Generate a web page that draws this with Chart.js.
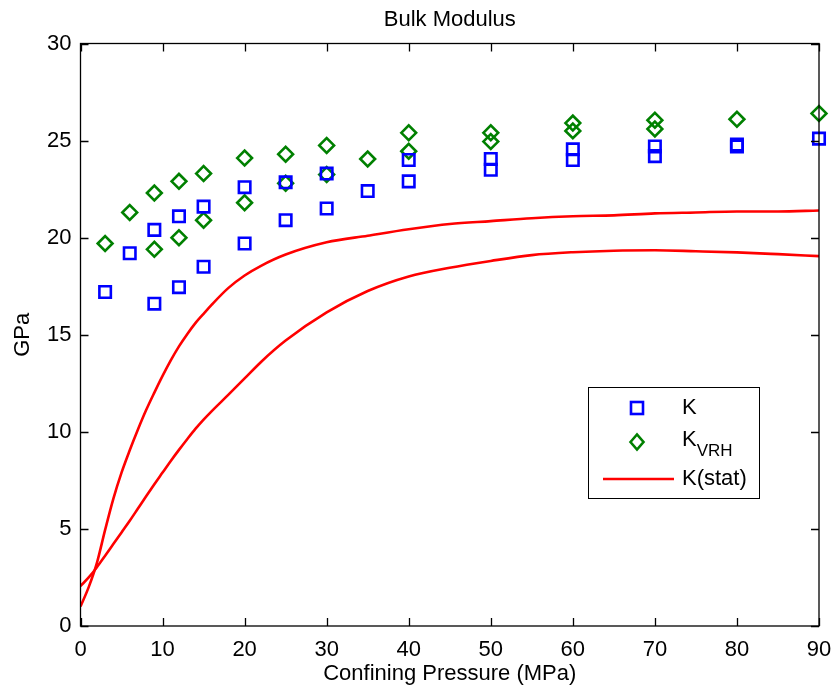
<!DOCTYPE html>
<html>
<head>
<meta charset="utf-8">
<title>Bulk Modulus</title>
<script src="https://cdn.jsdelivr.net/npm/chart.js@4.4.1/dist/chart.umd.min.js"></script>
<style>
    html, body { margin: 0; padding: 0; background: #ffffff; }
    #wrap { width: 832px; height: 691px; }
</style>
</head>
<body>
<div id="wrap"><canvas id="bulkChart"></canvas></div>
<script>
// ===== DATA =====

// Dynamic bulk modulus K (squares)
const kPressure = [3, 6, 9, 9, 12, 12, 15, 15, 20, 20, 25, 25, 30, 30, 35, 40, 40, 50, 50, 60, 60, 70, 70, 80, 80, 90];
const kValues   = [17.2, 19.2, 20.4, 16.6, 21.1, 17.45, 21.6, 18.5, 22.6, 19.7, 22.85, 20.9, 23.3, 21.5, 22.4, 24.0, 22.9, 24.05, 23.5, 24.55, 24.0, 24.7, 24.2, 24.8, 24.7, 25.1];

// Voigt-Reuss-Hill estimate (diamonds)
const vrhPressure = [3, 6, 9, 9, 12, 12, 15, 15, 20, 20, 25, 25, 30, 30, 35, 40, 40, 50, 50, 60, 60, 70, 70, 80, 90];
const vrhValues   = [19.7, 21.3, 22.3, 19.4, 22.9, 20.0, 23.3, 20.9, 24.1, 21.8, 24.3, 22.8, 24.75, 23.25, 24.05, 25.4, 24.45, 25.4, 24.95, 25.9, 25.5, 26.05, 25.6, 26.1, 26.4];

// Static modulus curves, two loading runs
const statPressure = [0, 1, 2, 3, 4, 5, 6, 7, 8, 9, 10, 11, 12, 13, 14, 15, 16, 18, 20, 22, 25, 30, 35, 40, 45, 50, 55, 60, 65, 70, 75, 80, 85, 90];
const statRunA = [1.0, 2.0, 3.25, 4.95, 6.55, 7.9, 9.05, 10.12, 11.12, 12.02, 12.88, 13.68, 14.4, 15.03, 15.6, 16.08, 16.55, 17.4, 18.05, 18.55, 19.13, 19.76, 20.1, 20.43, 20.7, 20.85, 21.0, 21.1, 21.15, 21.25, 21.3, 21.35, 21.35, 21.4];
const statRunB = [2.06, 2.5, 3.03, 3.62, 4.22, 4.82, 5.42, 6.05, 6.68, 7.3, 7.9, 8.5, 9.07, 9.62, 10.15, 10.63, 11.07, 11.9, 12.75, 13.6, 14.7, 16.15, 17.25, 18.0, 18.45, 18.8, 19.1, 19.25, 19.33, 19.35, 19.3, 19.24, 19.15, 19.05];

// Axis ranges and tick steps
const xRange = [0, 90];
const yRange = [0, 30];
const xStep = 10;
const yStep = 5;

const FONT_FAMILY = '"Liberation Sans", Arial, Helvetica, sans-serif';
const FONT_SIZE = 22;
const BLUE = '#0000ff';
const GREEN = '#008000';
const RED = '#ff0000';

function toPoints(xs, ys) {
    return xs.map((x, i) => ({ x: x, y: ys[i] }));
}

// Box around the plot area with inward ticks on every side, title centred over it
const axesBoxPlugin = {
    id: 'axesBox',
    afterDatasetsDraw(chart) {
        const { ctx, chartArea: area, scales } = chart;
        const tickLen = 8;
        ctx.save();
        ctx.strokeStyle = '#000000';
        ctx.lineWidth = 1.3;
        ctx.beginPath();
        scales.x.ticks.forEach(t => {
            const px = Math.round(scales.x.getPixelForValue(t.value)) + 0.5;
            ctx.moveTo(px, area.bottom);
            ctx.lineTo(px, area.bottom - tickLen);
            ctx.moveTo(px, area.top);
            ctx.lineTo(px, area.top + tickLen);
        });
        scales.y.ticks.forEach(t => {
            const py = Math.round(scales.y.getPixelForValue(t.value)) + 0.5;
            ctx.moveTo(area.left, py);
            ctx.lineTo(area.left + tickLen, py);
            ctx.moveTo(area.right, py);
            ctx.lineTo(area.right - tickLen, py);
        });
        ctx.stroke();
        ctx.strokeRect(area.left, area.top, area.right - area.left, area.bottom - area.top);

        ctx.fillStyle = '#000000';
        ctx.font = FONT_SIZE + 'px ' + FONT_FAMILY;
        ctx.textAlign = 'center';
        ctx.textBaseline = 'middle';
        ctx.fillText('Bulk Modulus', (area.left + area.right) / 2, 20);
        ctx.restore();
    }
};

// Legend box with a subscripted label, drawn from the dataset styles
const legendBoxPlugin = {
    id: 'legendBox',
    afterDraw(chart) {
        const { ctx } = chart;
        const sets = chart.data.datasets;
        const box = { left: 588.5, top: 387.5, width: 171, height: 111 };
        const markX = 637;
        const textX = 682;
        const rows = [408, 442, 479];

        ctx.save();
        ctx.fillStyle = '#ffffff';
        ctx.fillRect(box.left, box.top, box.width, box.height);
        ctx.strokeStyle = '#000000';
        ctx.lineWidth = 1;
        ctx.strokeRect(box.left, box.top, box.width, box.height);

        // square marker
        ctx.lineWidth = sets[0].borderWidth;
        ctx.strokeStyle = sets[0].borderColor;
        ctx.strokeRect(markX - 6, rows[0] - 6, 12, 12);

        // diamond marker
        ctx.lineWidth = sets[1].borderWidth;
        ctx.strokeStyle = sets[1].borderColor;
        ctx.beginPath();
        ctx.moveTo(markX - 6.5, rows[1]);
        ctx.lineTo(markX, rows[1] - 7.5);
        ctx.lineTo(markX + 6.5, rows[1]);
        ctx.lineTo(markX, rows[1] + 7.5);
        ctx.closePath();
        ctx.stroke();

        // line sample
        ctx.lineWidth = sets[2].borderWidth;
        ctx.strokeStyle = sets[2].borderColor;
        ctx.beginPath();
        ctx.moveTo(603, rows[2]);
        ctx.lineTo(674, rows[2]);
        ctx.stroke();

        ctx.fillStyle = '#000000';
        ctx.textBaseline = 'middle';
        ctx.textAlign = 'left';
        ctx.font = FONT_SIZE + 'px ' + FONT_FAMILY;
        ctx.fillText('K', textX, rows[0]);
        ctx.fillText('K', textX, rows[1] - 2);
        const kw = ctx.measureText('K').width;
        ctx.font = '17px ' + FONT_FAMILY;
        ctx.fillText('VRH', textX + kw, rows[1] + 9);
        ctx.font = FONT_SIZE + 'px ' + FONT_FAMILY;
        ctx.fillText('K(stat)', textX, rows[2]);
        ctx.restore();
    }
};

let bulkChart = null;

function initializeChart() {
    const ctx = document.getElementById('bulkChart');
    if (!ctx) return;

    Chart.defaults.font.family = FONT_FAMILY;
    Chart.defaults.color = '#000000';

    bulkChart = new Chart(ctx.getContext('2d'), {
        type: 'scatter',
        data: {
            datasets: [{
                label: 'K',
                data: toPoints(kPressure, kValues),
                pointStyle: 'rect',
                pointRadius: 8.1,
                pointHoverRadius: 8.1,
                borderColor: BLUE,
                backgroundColor: 'rgba(0,0,0,0)',
                borderWidth: 2.6,
                showLine: false,
                clip: false
            }, {
                label: 'KVRH',
                data: toPoints(vrhPressure, vrhValues),
                pointStyle: 'rectRot',
                pointRadius: 7.4,
                pointHoverRadius: 7.4,
                borderColor: GREEN,
                backgroundColor: 'rgba(0,0,0,0)',
                borderWidth: 2.6,
                showLine: false,
                clip: false
            }, {
                label: 'K(stat)',
                data: toPoints(statPressure, statRunA),
                showLine: true,
                borderColor: RED,
                borderWidth: 2.6,
                pointRadius: 0,
                cubicInterpolationMode: 'monotone',
                fill: false
            }, {
                label: 'K(stat) run 2',
                data: toPoints(statPressure, statRunB),
                showLine: true,
                borderColor: RED,
                borderWidth: 2.6,
                pointRadius: 0,
                cubicInterpolationMode: 'monotone',
                fill: false
            }]
        },
        options: {
            responsive: true,
            maintainAspectRatio: false,
            animation: false,
            layout: { padding: { left: 0, right: 13, top: 43.5, bottom: 0 } },
            plugins: {
                legend: { display: false },
                tooltip: { enabled: false },
                title: { display: false }
            },
            scales: {
                x: {
                    type: 'linear',
                    min: xRange[0],
                    max: xRange[1],
                    grid: { display: false, drawTicks: false },
                    border: { display: false },
                    ticks: { stepSize: xStep, color: '#000000', font: { size: FONT_SIZE }, padding: 11, maxRotation: 0 },
                    title: {
                        display: true,
                        text: 'Confining Pressure (MPa)',
                        color: '#000000',
                        font: { size: FONT_SIZE },
                        padding: { top: 0, bottom: 4 }
                    },
                    afterFit(scale) {
                        scale.height = 65;
                        scale.paddingLeft = 0;
                        scale.paddingRight = 0;
                    }
                },
                y: {
                    type: 'linear',
                    min: yRange[0],
                    max: yRange[1],
                    grid: { display: false, drawTicks: false },
                    border: { display: false },
                    ticks: { stepSize: yStep, color: '#000000', font: { size: FONT_SIZE }, padding: 9 },
                    title: {
                        display: true,
                        text: 'GPa',
                        color: '#000000',
                        font: { size: FONT_SIZE },
                        padding: { top: 10, bottom: 0 }
                    },
                    afterFit(scale) {
                        scale.width = 80.5;
                        scale.paddingTop = 0;
                        scale.paddingBottom = 0;
                    }
                }
            }
        },
        plugins: [axesBoxPlugin, legendBoxPlugin]
    });
}

document.addEventListener('DOMContentLoaded', function() {
    initializeChart();
});
</script>
</body>
</html>
